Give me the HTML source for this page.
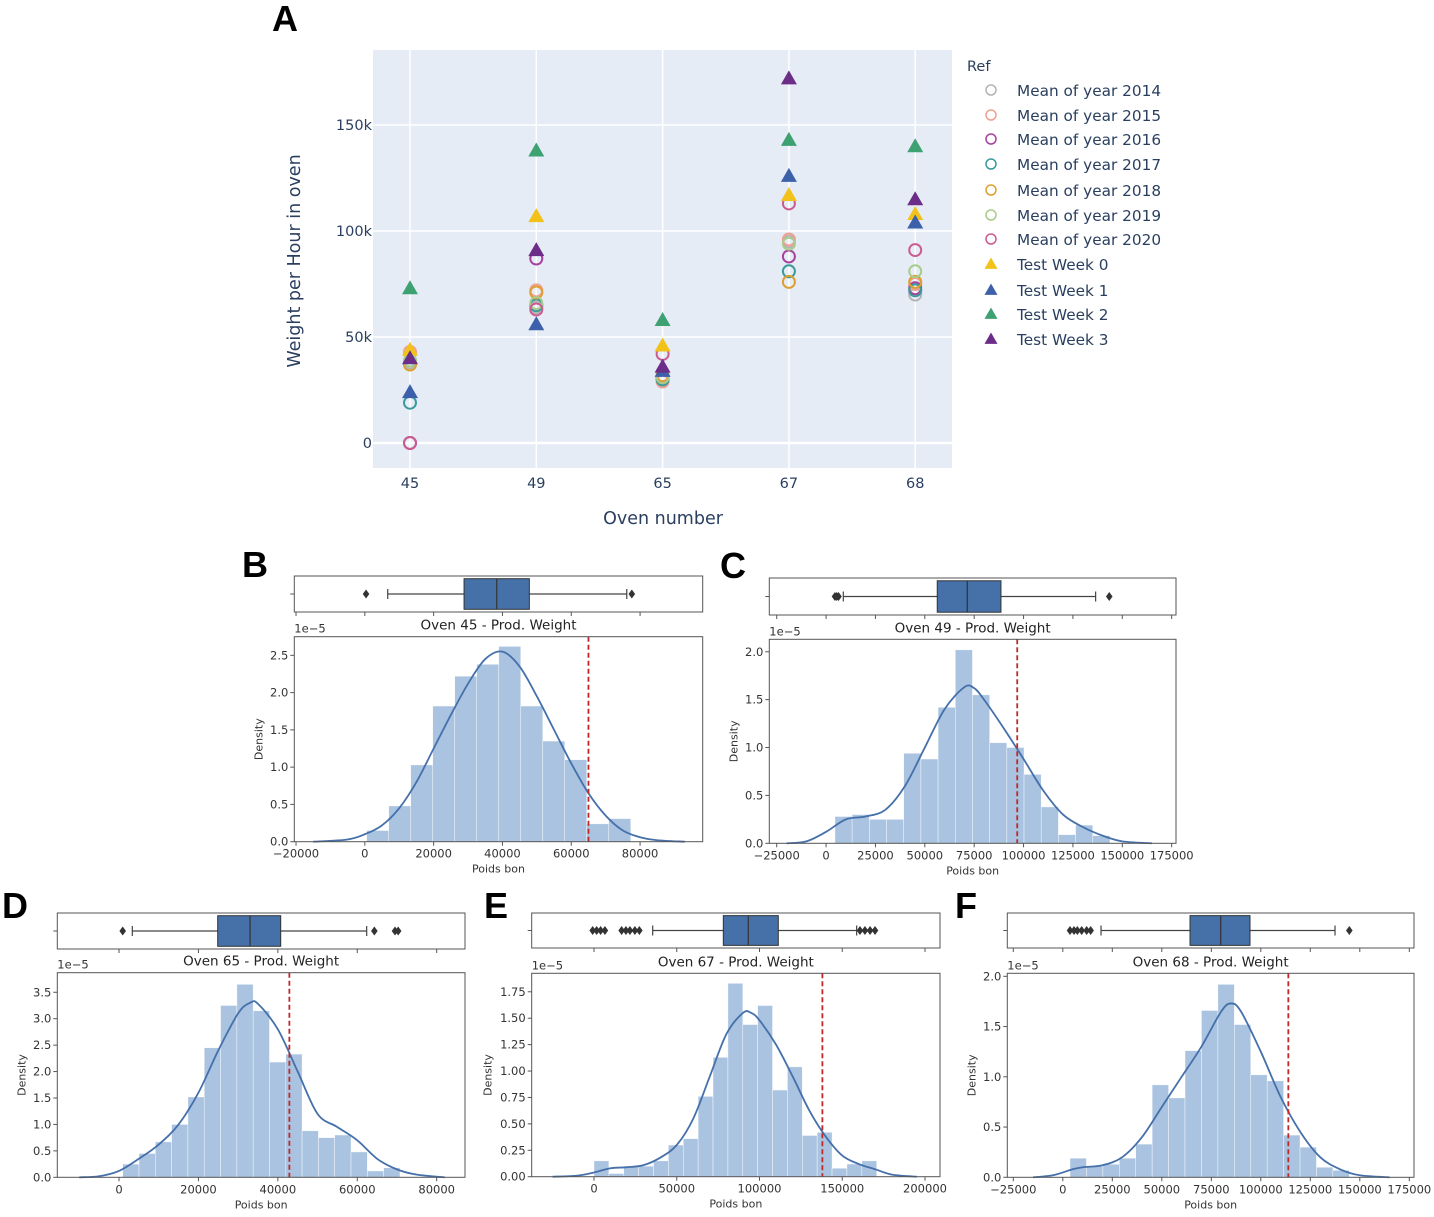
<!DOCTYPE html>
<html><head><meta charset="utf-8">
<style>
html,body{margin:0;padding:0;background:#fff;}
svg{display:block;}
</style></head>
<body>
<svg id="fig" width="1434" height="1217" viewBox="0 0 1434 1217" xmlns="http://www.w3.org/2000/svg"></svg>
<script>
// ===== Panel A data =====
const ovens = ['45','49','65','67','68'];
const mean2014 = [38000, 64000, 30000, 95000, 70000];
const mean2015 = [43000, 72000, 29000, 96000, 75000];
const mean2016 = [0, 87000, 31000, 88000, 73000];
const mean2017 = [19000, 65000, 30000, 81000, 72000];
const mean2018 = [37000, 71000, 32000, 76000, 76000];
const mean2019 = [39000, 66000, 31000, 94000, 81000];
const mean2020 = [0, 63000, 42000, 113000, 91000];
const week0 = [44000, 107000, 46000, 117000, 108000];
const week1 = [24000, 56000, 34000, 126000, 104000];
const week2 = [73000, 138000, 58000, 143000, 140000];
const week3 = [40000, 91000, 36000, 172000, 115000];
const yTicksA = [0, 50000, 100000, 150000];
const yTickLabelsA = ['0', '50k', '100k', '150k'];

// ===== Histogram panels data (density in 1e-5) =====
const binsB = [0.15,0.48,1.03,1.82,2.22,2.38,2.62,1.82,1.35,1.10,0.24,0.31];
const kdeXB = [-15000,-5000,0,5000,10000,15000,20000,25000,30000,35000,40000,45000,50000,55000,60000,65000,70000,75000,80000,85000,93000];
const kdeYB = [0,0.03,0.1,0.22,0.45,0.8,1.25,1.7,2.12,2.45,2.55,2.35,1.95,1.5,1.05,0.65,0.35,0.15,0.06,0.02,0];
const boxB = [6650, 28840, 38340, 47820, 76130];
const outB = [350, 77600];

const binsC = [0.28,0.30,0.25,0.25,0.94,0.88,1.42,2.02,1.55,1.05,1.0,0.72,0.38,0.09,0.19,0.08];
const kdeXC = [-20000,-10000,0,10000,20000,30000,40000,50000,60000,70000,75000,80000,90000,100000,110000,120000,130000,140000,150000,165000];
const kdeYC = [0,0.02,0.12,0.25,0.28,0.35,0.6,1.0,1.4,1.63,1.62,1.5,1.2,0.88,0.55,0.3,0.17,0.08,0.02,0];
const boxC = [8730, 56300, 71500, 88560, 136500];
const outC = [4500, 5400, 6300, 143400];

const binsD = [0.25,0.45,0.67,1.0,1.52,2.45,3.25,3.65,3.15,2.18,2.33,0.88,0.75,0.8,0.48,0.12,0.18];
const kdeXD = [-10000,-5000,0,5000,10000,15000,20000,25000,30000,33000,35000,40000,45000,50000,55000,60000,65000,70000,75000,82000];
const kdeYD = [0,0.02,0.12,0.35,0.62,1.0,1.6,2.4,3.1,3.3,3.28,2.8,2.0,1.2,0.95,0.7,0.35,0.15,0.05,0];
const boxD = [3350, 24850, 33000, 40720, 62370];
const outD = [930, 64300, 69500, 70300];

const binsE = [0.15,0.03,0.1,0.1,0.15,0.3,0.36,0.76,1.13,1.83,1.44,1.62,0.82,1.04,0.39,0.42,0.08,0.12,0.15];
const kdeXE = [-25000,-10000,0,10000,20000,30000,40000,50000,60000,70000,80000,90000,95000,100000,110000,120000,130000,140000,150000,160000,170000,180000,195000];
const kdeYE = [0,0.01,0.04,0.08,0.09,0.11,0.18,0.3,0.55,0.95,1.35,1.55,1.55,1.48,1.25,0.95,0.63,0.38,0.2,0.12,0.07,0.02,0];
const boxE = [35460, 78130, 93230, 111360, 158700];
const outE = [-800,1600,4000,6600,16700,19300,21700,24700,27400,160700,163700,166800,169800];

const binsF = [0.19,0.11,0.13,0.19,0.33,0.92,0.79,1.26,1.66,1.92,1.52,1.02,0.96,0.42,0.3,0.1,0.07];
const kdeXF = [-15000,-5000,5000,10000,20000,30000,40000,50000,60000,70000,80000,85000,90000,100000,110000,120000,130000,140000,150000,165000];
const kdeYF = [0,0.02,0.08,0.1,0.12,0.2,0.4,0.7,1.0,1.3,1.65,1.73,1.65,1.25,0.8,0.45,0.2,0.08,0.02,0];
const boxF = [19300, 64250, 79750, 94540, 137480];
const outF = [3640,5660,7340,9530,12050,14070,144700];

const refLines = [65000, 96800, 42900, 138000, 113900];
const panelTitles = ['Oven 45 - Prod. Weight','Oven 49 - Prod. Weight','Oven 65 - Prod. Weight','Oven 67 - Prod. Weight','Oven 68 - Prod. Weight'];

const NS = 'http://www.w3.org/2000/svg';
const fig = document.getElementById('fig');
function mk(tag, attrs, parent){
  const e = document.createElementNS(NS, tag);
  for (const k in attrs) e.setAttribute(k, attrs[k]);
  (parent||fig).appendChild(e);
  return e;
}
function txt(s, attrs, parent){ const e = mk('text', attrs, parent); e.textContent = s; return e; }
const AFONT = 'DejaVu Sans, sans-serif';

// ===== Panel A =====
(function(){
  const g = mk('g', {});
  
  
  const X0=373, X1=952, Y0=50, Y1=468;
  const xA = i => 410 + i*126.3;
  const yA = v => 443 - v/1000*2.12;
  const bg = mk('rect', {x:X0, y:Y0, width:X1-X0, height:Y1-Y0, fill:'#e5ecf6'}, g);
  
  
  ovens.forEach((o,i)=>{
    const l = mk('line', {x1:xA(i), x2:xA(i), y1:Y0, y2:Y1, stroke:'#fff', 'stroke-width':1.5}, g);
    
    
    const t = txt(o, {x:xA(i), y:488, 'text-anchor':'middle', 'font-family':AFONT, 'font-size':14.5, fill:'#2a3f5f'}, g);
    
    
  });
  yTicksA.forEach((v,i)=>{
    const l = mk('line', {x1:X0, x2:X1, y1:yA(v), y2:yA(v), stroke:'#fff', 'stroke-width':i===0?2.5:1.5}, g);
    
    
    const t = txt(yTickLabelsA[i], {x:372, y:yA(v)+5, 'text-anchor':'end', 'font-family':AFONT, 'font-size':14.5, fill:'#2a3f5f'}, g);
    
    
  });
  const xt = txt('Oven number', {x:663, y:524, 'text-anchor':'middle', 'font-family':AFONT, 'font-size':17.5, fill:'#2a3f5f'}, g);
  
  
  const yt = txt('Weight per Hour in oven', {x:0, y:0, transform:'translate(300,261) rotate(-90)', 'text-anchor':'middle', 'font-family':AFONT, 'font-size':17.5, fill:'#2a3f5f'}, g);
  
  

  const circleSeries = [
    ['Mean of year 2014', mean2014, '#b4b4b4'],
    ['Mean of year 2015', mean2015, '#f0a090'],
    ['Mean of year 2016', mean2016, '#a8409e'],
    ['Mean of year 2017', mean2017, '#3a9a9a'],
    ['Mean of year 2018', mean2018, '#dda030'],
    ['Mean of year 2019', mean2019, '#a8cc8c'],
    ['Mean of year 2020', mean2020, '#cc5c90']
  ];
  const triSeries = [
    ['Test Week 0', week0, '#f2c21b'],
    ['Test Week 1', week1, '#3c60aa'],
    ['Test Week 2', week2, '#3ea172'],
    ['Test Week 3', week3, '#6b2d87']
  ];
  const tri = (cx,cy,s) => `${cx},${cy-s} ${cx-s*1.0},${cy+s*0.75} ${cx+s*1.0},${cy+s*0.75}`;
  circleSeries.forEach(s=>{
    s[1].forEach((v,i)=>{
      const c = mk('circle', {cx:xA(i), cy:yA(v), r:6, fill:'none', stroke:s[2], 'stroke-width':2}, g);
      
      
    });
  });
  triSeries.forEach(s=>{
    s[1].forEach((v,i)=>{
      const p = mk('polygon', {points:tri(xA(i), yA(v), 8), fill:s[2]}, g);
      
      
    });
  });
  const lg = mk('g', {}, g);
  
  
  const rt = txt('Ref', {x:967, y:71, 'font-family':AFONT, 'font-size':14.5, fill:'#2a3f5f'}, lg);
  
  
  const all = circleSeries.concat(triSeries);
  const ly = [91,116,140,165,191,216,240,265,291,315,340];
  all.forEach((s,k)=>{
    const e = mk('g', {}, lg);
    
    
    if (k<7) mk('circle', {cx:991, cy:ly[k]-1, r:5, fill:'none', stroke:s[2], 'stroke-width':1.5}, e);
    else mk('polygon', {points:tri(991, ly[k]-1, 6.5), fill:s[2]}, e);
    txt(s[0], {x:1017, y:ly[k]+5, 'font-family':AFONT, 'font-size':15.3, fill:'#2a3f5f'}, e);
  });
  const la = txt('A', {x:285, y:31, 'text-anchor':'middle', 'font-family':'Liberation Sans, sans-serif', 'font-weight':'bold', 'font-size':36, fill:'#000'});
  
  
})();

// ===== Histogram panels =====
const panels = [
  {key:'b', letter:'B', lx:255, ly:577, fx0:294.3, fx1:702.7, fy0:636.7, fy1:841.7, by0:576, by1:612,
   xd:[-20500,98200], ytop:2.75, xticks:[-20000,0,20000,40000,60000,80000], yticks:[0,0.5,1,1.5,2,2.5], dec:1,
   binStart:552, binW:6395, bins:binsB, kx:kdeXB, ky:kdeYB, box:boxB, out:outB},
  {key:'c', letter:'C', lx:733, ly:578, fx0:769.3, fx1:1176, fy0:639.3, fy1:843.3, by0:578, by1:615,
   xd:[-28750,177200], ytop:2.13, xticks:[-25000,0,25000,50000,75000,100000,125000,150000,175000], yticks:[0,0.5,1,1.5,2], dec:1,
   binStart:4500, binW:8704, bins:binsC, kx:kdeXC, ky:kdeYC, box:boxC, out:outC},
  {key:'d', letter:'D', lx:15, ly:918, fx0:57.3, fx1:465, fy0:972.7, fy1:1177.3, by0:913, by1:949,
   xd:[-15540,87130], ytop:3.87, xticks:[0,20000,40000,60000,80000], yticks:[0,0.5,1,1.5,2,2.5,3,3.5], dec:1,
   binStart:930, binW:4107, bins:binsD, kx:kdeXD, ky:kdeYD, box:boxD, out:outD},
  {key:'e', letter:'E', lx:496, ly:918, fx0:531.7, fx1:940, fy0:973.3, fy1:1176.7, by0:913, by1:948,
   xd:[-37640,209060], ytop:1.925, xticks:[0,50000,100000,150000,200000], yticks:[0,0.25,0.5,0.75,1,1.25,1.5,1.75], dec:2,
   binStart:0, binW:8990, bins:binsE, kx:kdeXE, ky:kdeYE, box:boxE, out:outE},
  {key:'f', letter:'F', lx:966, ly:918, fx0:1007.3, fx1:1414, fy0:973.3, fy1:1177.3, by0:913, by1:948,
   xd:[-28030,177370], ytop:2.03, xticks:[-25000,0,25000,50000,75000,100000,125000,150000,175000], yticks:[0,0.5,1,1.5,2], dec:1,
   binStart:3640, binW:8298, bins:binsF, kx:kdeXF, ky:kdeYF, box:boxF, out:outF}
];

function smoothPath(pts){
  let d = `M${pts[0][0]},${pts[0][1]}`;
  for (let i=0;i<pts.length-1;i++){
    const p0 = pts[i-1]||pts[i], p1 = pts[i], p2 = pts[i+1], p3 = pts[i+2]||p2;
    const c1 = [p1[0]+(p2[0]-p0[0])/6, p1[1]+(p2[1]-p0[1])/6];
    const c2 = [p2[0]-(p3[0]-p1[0])/6, p2[1]-(p3[1]-p1[1])/6];
    d += ` C${c1[0]},${c1[1]} ${c2[0]},${c2[1]} ${p2[0]},${p2[1]}`;
  }
  return d;
}

const FONT = 'DejaVu Sans, sans-serif';
panels.forEach((p, idx)=>{
  const g = mk('g', {});
  
  
  const sx = v => p.fx0 + (v - p.xd[0])/(p.xd[1]-p.xd[0])*(p.fx1-p.fx0);
  const sy = v => p.fy1 - v/p.ytop*(p.fy1-p.fy0);

  p.bins.forEach((h,i)=>{
    const a = sx(p.binStart + i*p.binW), b = sx(p.binStart + (i+1)*p.binW);
    const r = mk('rect', {x:a, y:sy(h), width:b-a, height:sy(0)-sy(h), fill:'#a9c3e0', stroke:'#fff', 'stroke-width':0.6, 'stroke-opacity':0.7}, g);
    
    
  });
  const pts = p.kx.map((x,i)=>[sx(x), sy(p.ky[i])]);
  const k = mk('path', {d:smoothPath(pts), fill:'none', stroke:'#4570aa', 'stroke-width':1.8}, g);
  
  
  const rl = mk('line', {x1:sx(refLines[idx]), x2:sx(refLines[idx]), y1:p.fy0, y2:p.fy1, stroke:'#c0282a', 'stroke-width':1.8, 'stroke-dasharray':'5,3'}, g);
  
  
  const fr = mk('rect', {x:p.fx0, y:p.fy0, width:p.fx1-p.fx0, height:p.fy1-p.fy0, fill:'none', stroke:'#555', 'stroke-width':1}, g);
  
  
  p.xticks.forEach(v=>{
    mk('line', {x1:sx(v), x2:sx(v), y1:p.fy1, y2:p.fy1+4, stroke:'#555'}, g);
    mk('line', {x1:sx(v), x2:sx(v), y1:p.by1, y2:p.by1+4, stroke:'#555'}, g);
    const t = txt(v<0 ? '−'+(-v) : String(v), {x:sx(v), y:p.fy1+16, 'text-anchor':'middle', 'font-family':FONT, 'font-size':11.5, fill:'#333'}, g);
    
    
  });
  p.yticks.forEach(v=>{
    mk('line', {x1:p.fx0-4, x2:p.fx0, y1:sy(v), y2:sy(v), stroke:'#555'}, g);
    const t = txt(v.toFixed(p.dec), {x:p.fx0-6, y:sy(v)+4, 'text-anchor':'end', 'font-family':FONT, 'font-size':11.5, fill:'#333'}, g);
    
    
  });
  const xl = txt('Poids bon', {x:(p.fx0+p.fx1)/2, y:p.fy1+31, 'text-anchor':'middle', 'font-family':FONT, 'font-size':11, fill:'#333'}, g);
  
  
  const yl = txt('Density', {x:0, y:0, transform:`translate(${p.fx0-(p.dec===2?40:32)},${(p.fy0+p.fy1)/2}) rotate(-90)`, 'text-anchor':'middle', 'font-family':FONT, 'font-size':11, fill:'#333'}, g);
  
  
  const ex = txt('1e−5', {x:p.fx0, y:p.fy0-4, 'font-family':FONT, 'font-size':11.5, fill:'#333'}, g);
  
  
  const ti = txt(panelTitles[idx], {x:(p.fx0+p.fx1)/2, y:p.fy0-7, 'text-anchor':'middle', 'font-family':FONT, 'font-size':13.5, fill:'#222'}, g);
  
  

  const bf = mk('rect', {x:p.fx0, y:p.by0, width:p.fx1-p.fx0, height:p.by1-p.by0, fill:'none', stroke:'#555', 'stroke-width':1}, g);
  
  
  const cy = (p.by0+p.by1)/2, bh = (p.by1-p.by0)*0.85;
  mk('line', {x1:p.fx0-4, x2:p.fx0, y1:cy, y2:cy, stroke:'#555'}, g);
  const b = p.box;
  const wl = mk('line', {x1:sx(b[0]), x2:sx(b[1]), y1:cy, y2:cy, stroke:'#444', 'stroke-width':1.2}, g);
  
  
  const wh = mk('line', {x1:sx(b[3]), x2:sx(b[4]), y1:cy, y2:cy, stroke:'#444', 'stroke-width':1.2}, g);
  
  
  [b[0], b[4]].forEach(v=>{
    const c = mk('line', {x1:sx(v), x2:sx(v), y1:cy-5, y2:cy+5, stroke:'#444', 'stroke-width':1.2}, g);
    
    
  });
  const bx = mk('rect', {x:sx(b[1]), y:cy-bh/2, width:sx(b[3])-sx(b[1]), height:bh, fill:'#4570a8', stroke:'#333', 'stroke-width':1}, g);
  
  
  const md = mk('line', {x1:sx(b[2]), x2:sx(b[2]), y1:cy-bh/2, y2:cy+bh/2, stroke:'#333', 'stroke-width':1.2}, g);
  
  
  p.out.forEach(v=>{
    const x = sx(v);
    const o = mk('polygon', {points:`${x},${cy-4.5} ${x+3.3},${cy} ${x},${cy+4.5} ${x-3.3},${cy}`, fill:'#333'}, g);
    
    
  });
  const L = txt(p.letter, {x:p.lx, y:p.ly, 'text-anchor':'middle', 'font-family':'Liberation Sans, sans-serif', 'font-weight':'bold', 'font-size':36, fill:'#000'});
  
  
});
</script>
</body></html>
